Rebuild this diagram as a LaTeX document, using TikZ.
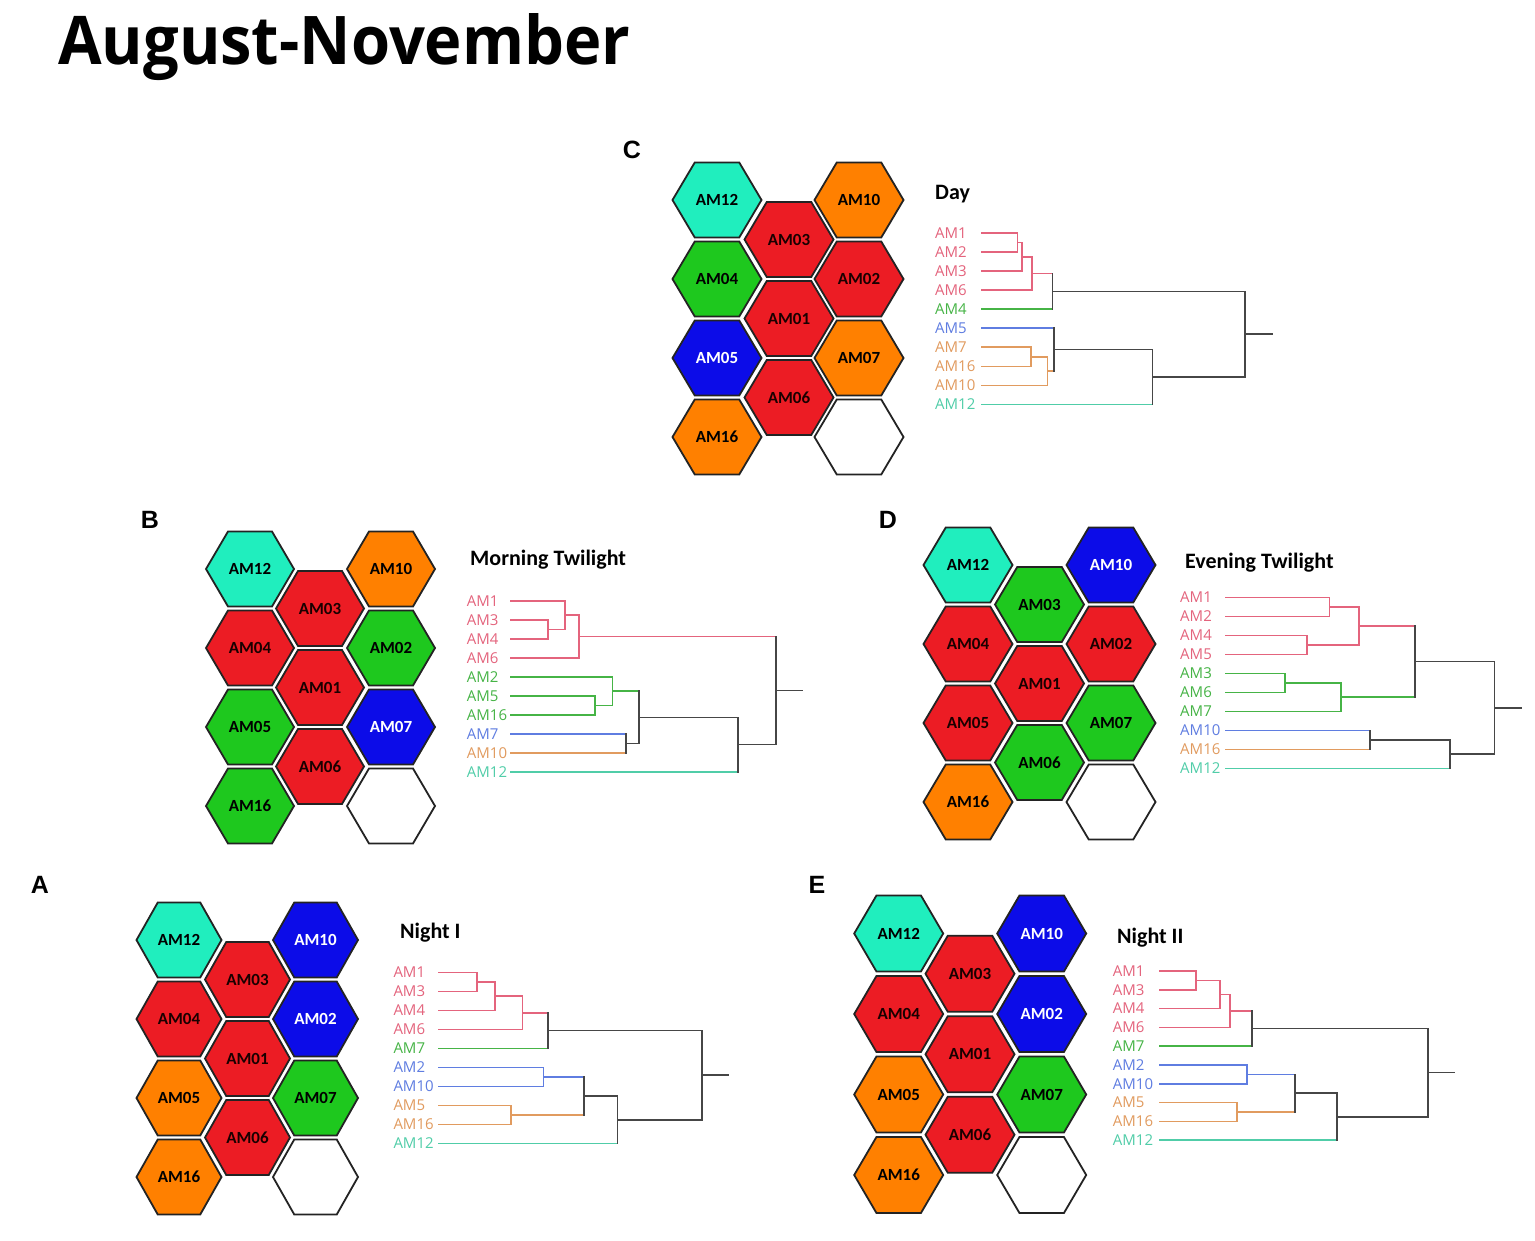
\documentclass[tikz,border=0pt]{standalone}
\usepackage{fontspec}
\setmainfont{Carlito}
\newfontfamily\ttlfont{Open Sans}
\newfontfamily\lblfont{Open Sans}
\newfontfamily\letfont{Liberation Sans}
\usetikzlibrary{calc}
\definecolor{hred}{RGB}{236,28,36}
\definecolor{hgreen}{RGB}{30,200,30}
\definecolor{hblue}{RGB}{12,12,232}
\definecolor{horange}{RGB}{255,128,0}
\definecolor{hteal}{RGB}{32,238,190}
\definecolor{hedge}{RGB}{35,35,35}
\definecolor{cpk}{RGB}{228,100,125}
\definecolor{cgn}{RGB}{70,180,70}
\definecolor{cbl}{RGB}{95,125,225}
\definecolor{cor}{RGB}{225,155,95}
\definecolor{ctl}{RGB}{80,205,168}
\definecolor{cdk}{RGB}{70,70,70}

\newcommand\hexcell[5]{%
  \draw[hexe,#4,shift={(#2,#3)}] (-\hw,0) -- (-\hw/2,-\hh) -- (\hw/2,-\hh) -- (\hw,0) -- (\hw/2,\hh) -- (-\hw/2,\hh) -- cycle;
  \node[hexl,#4,fill=none] (#1) at (#2,#3) {#5};}
\newcommand\hexempty[2]{%
  \draw[hexe,fill=white,shift={(#1,#2)}] (-\hw,0) -- (-\hw/2,-\hh) -- (\hw/2,-\hh) -- (\hw,0) -- (\hw/2,\hh) -- (-\hw/2,\hh) -- cycle;}
\newcommand\leaf[4]{%
  \node[lf,text=#3] (#1-#2t) at (\tx,#4) {#2};
  \coordinate (#1-#2) at (\lx,#4);}
\newcommand\mrg[7]{%
  \coordinate (tmpx) at (#2,0);
  \coordinate (#1a) at (#3 -| tmpx);
  \coordinate (#1b) at (#4 -| tmpx);
  \coordinate (#1) at ($(#1a)!0.5!(#1b)$);
  \draw[dl,#5] (#3) -- (#1a);
  \draw[dl,#6] (#4) -- (#1b);
  \draw[dl,#7] (#1a) -- (#1b);}

\begin{document}
\begin{tikzpicture}[x=1pt,y=-1pt,
  hexe/.style={draw=hedge,line width=1.8pt,line join=miter},
  hexl/.style={font=\bfseries\fontsize{17}{19}\selectfont,inner sep=0pt},
  hR/.style={fill=hred,text=black!90!red},
  hG/.style={fill=hgreen,text=black},
  hB/.style={fill=hblue,text=white},
  hO/.style={fill=horange,text=black},
  hT/.style={fill=hteal,text=black},
  lf/.style={font=\lblfont\fontsize{15}{17}\selectfont,anchor=west,inner sep=0pt},
  dl/.style={line width=1.6pt,line cap=rect},
  ttl/.style={font=\bfseries\fontsize{22}{24}\selectfont,anchor=base west,inner sep=0pt},
  plet/.style={font=\letfont\bfseries\fontsize{25}{27}\selectfont,inner sep=0pt}]
\useasboundingbox[fill=white] (0,0) rectangle (1535,1241);

% title
\node[anchor=base west,inner sep=0pt] (title) at (58,65) {\resizebox{572pt}{51pt}{\ttlfont\bfseries August-November}};

% panel letters
\node[plet] (letC) at (632,150) {C};
\node[plet] (letB) at (150,520) {B};
\node[plet] (letD) at (888,520) {D};
\node[plet] (letA) at (40,885) {A};
\node[plet] (letE) at (817,885) {E};

% ===== Panel C hexes
\def\hw{44.5}\def\hh{37.5}
\def\pL{717}\def\pM{789}\def\pR{859}\def\pT{200}\def\pD{79}
\hexcell{C-AM12}{\pL}{\pT}{hT}{AM12}
\hexcell{C-AM04}{\pL}{\pT+\pD}{hG}{AM04}
\hexcell{C-AM05}{\pL}{\pT+2*\pD}{hB}{AM05}
\hexcell{C-AM16}{\pL}{\pT+3*\pD}{hO}{AM16}
\hexcell{C-AM03}{\pM}{\pT+0.5*\pD}{hR}{AM03}
\hexcell{C-AM01}{\pM}{\pT+1.5*\pD}{hR}{AM01}
\hexcell{C-AM06}{\pM}{\pT+2.5*\pD}{hR}{AM06}
\hexcell{C-AM10}{\pR}{\pT}{hO}{AM10}
\hexcell{C-AM02}{\pR}{\pT+\pD}{hR}{AM02}
\hexcell{C-AM07}{\pR}{\pT+2*\pD}{hO}{AM07}
\hexempty{\pR}{\pT+3*\pD}

% ===== Panel B hexes
\def\hw{44}\def\hh{37.5}
\def\pL{250}\def\pM{320}\def\pR{391}\def\pT{569}\def\pD{79}
\hexcell{B-AM12}{\pL}{\pT}{hT}{AM12}
\hexcell{B-AM04}{\pL}{\pT+\pD}{hR}{AM04}
\hexcell{B-AM05}{\pL}{\pT+2*\pD}{hG}{AM05}
\hexcell{B-AM16}{\pL}{\pT+3*\pD}{hG}{AM16}
\hexcell{B-AM03}{\pM}{\pT+0.5*\pD}{hR}{AM03}
\hexcell{B-AM01}{\pM}{\pT+1.5*\pD}{hR}{AM01}
\hexcell{B-AM06}{\pM}{\pT+2.5*\pD}{hR}{AM06}
\hexcell{B-AM10}{\pR}{\pT}{hO}{AM10}
\hexcell{B-AM02}{\pR}{\pT+\pD}{hG}{AM02}
\hexcell{B-AM07}{\pR}{\pT+2*\pD}{hB}{AM07}
\hexempty{\pR}{\pT+3*\pD}

% ===== Panel D hexes
\def\hw{44.5}\def\hh{37.5}
\def\pL{968}\def\pM{1039.5}\def\pR{1111}\def\pT{565}\def\pD{79}
\hexcell{D-AM12}{\pL}{\pT}{hT}{AM12}
\hexcell{D-AM04}{\pL}{\pT+\pD}{hR}{AM04}
\hexcell{D-AM05}{\pL}{\pT+2*\pD}{hR}{AM05}
\hexcell{D-AM16}{\pL}{\pT+3*\pD}{hO}{AM16}
\hexcell{D-AM03}{\pM}{\pT+0.5*\pD}{hG}{AM03}
\hexcell{D-AM01}{\pM}{\pT+1.5*\pD}{hR}{AM01}
\hexcell{D-AM06}{\pM}{\pT+2.5*\pD}{hG}{AM06}
\hexcell{D-AM10}{\pR}{\pT}{hB}{AM10}
\hexcell{D-AM02}{\pR}{\pT+\pD}{hR}{AM02}
\hexcell{D-AM07}{\pR}{\pT+2*\pD}{hG}{AM07}
\hexempty{\pR}{\pT+3*\pD}

% ===== Panel A hexes
\def\hw{42.5}\def\hh{37.5}
\def\pL{179}\def\pM{247.5}\def\pR{315.5}\def\pT{940}\def\pD{79}
\hexcell{A-AM12}{\pL}{\pT}{hT}{AM12}
\hexcell{A-AM04}{\pL}{\pT+\pD}{hR}{AM04}
\hexcell{A-AM05}{\pL}{\pT+2*\pD}{hO}{AM05}
\hexcell{A-AM16}{\pL}{\pT+3*\pD}{hO}{AM16}
\hexcell{A-AM03}{\pM}{\pT+0.5*\pD}{hR}{AM03}
\hexcell{A-AM01}{\pM}{\pT+1.5*\pD}{hR}{AM01}
\hexcell{A-AM06}{\pM}{\pT+2.5*\pD}{hR}{AM06}
\hexcell{A-AM10}{\pR}{\pT}{hB}{AM10}
\hexcell{A-AM02}{\pR}{\pT+\pD}{hB}{AM02}
\hexcell{A-AM07}{\pR}{\pT+2*\pD}{hG}{AM07}
\hexempty{\pR}{\pT+3*\pD}

% ===== Panel E hexes
\def\hw{44.5}\def\hh{38}
\def\pL{898.7}\def\pM{970}\def\pR{1041.7}\def\pT{933.5}\def\pD{80.5}
\hexcell{E-AM12}{\pL}{\pT}{hT}{AM12}
\hexcell{E-AM04}{\pL}{\pT+\pD}{hR}{AM04}
\hexcell{E-AM05}{\pL}{\pT+2*\pD}{hO}{AM05}
\hexcell{E-AM16}{\pL}{\pT+3*\pD}{hO}{AM16}
\hexcell{E-AM03}{\pM}{\pT+0.5*\pD}{hR}{AM03}
\hexcell{E-AM01}{\pM}{\pT+1.5*\pD}{hR}{AM01}
\hexcell{E-AM06}{\pM}{\pT+2.5*\pD}{hR}{AM06}
\hexcell{E-AM10}{\pR}{\pT}{hB}{AM10}
\hexcell{E-AM02}{\pR}{\pT+\pD}{hB}{AM02}
\hexcell{E-AM07}{\pR}{\pT+2*\pD}{hG}{AM07}
\hexempty{\pR}{\pT+3*\pD}

% ===== titles
\node[ttl] (tDay) at (935,199.5) {Day};
\node[ttl] (tMT) at (470,565) {Morning Twilight};
\node[ttl] (tET) at (1185,568) {Evening Twilight};
\node[ttl] (tN1) at (400,938.5) {Night I};
\node[ttl] (tN2) at (1117,943) {Night II};

% ===== Dendrogram C (Day)
\def\tx{935}\def\lx{981.7}
\leaf{dC}{AM1}{cpk}{233}
\leaf{dC}{AM2}{cpk}{252.05}
\leaf{dC}{AM3}{cpk}{271.1}
\leaf{dC}{AM6}{cpk}{290.15}
\leaf{dC}{AM4}{cgn}{309.2}
\leaf{dC}{AM5}{cbl}{328.25}
\leaf{dC}{AM7}{cor}{347.3}
\leaf{dC}{AM16}{cor}{366.35}
\leaf{dC}{AM10}{cor}{385.4}
\leaf{dC}{AM12}{ctl}{404.45}
\mrg{dC-m1}{1017.3}{dC-AM1}{dC-AM2}{cpk}{cpk}{cpk}
\mrg{dC-m2}{1021.7}{dC-m1}{dC-AM3}{cpk}{cpk}{cpk}
\mrg{dC-m3}{1031.7}{dC-m2}{dC-AM6}{cpk}{cpk}{cpk}
\mrg{dC-m4}{1052.3}{dC-m3}{dC-AM4}{cpk}{cgn}{cdk}
\mrg{dC-m5}{1031}{dC-AM7}{dC-AM16}{cor}{cor}{cor}
\mrg{dC-m6}{1047.3}{dC-m5}{dC-AM10}{cor}{cor}{cor}
\mrg{dC-m7}{1054}{dC-AM5}{dC-m6}{cbl}{cor}{cdk}
\mrg{dC-m8}{1152.3}{dC-m7}{dC-AM12}{cdk}{ctl}{cdk}
\mrg{dC-root}{1245}{dC-m4}{dC-m8}{cdk}{cdk}{cdk}
\coordinate (dC-tail) at ($(dC-root)+(26.7,0)$);
\draw[dl,cdk] (dC-root) -- (dC-tail);

% ===== Dendrogram B (Morning Twilight)
\def\tx{466.7}\def\lx{511}
\leaf{dB}{AM1}{cpk}{601}
\leaf{dB}{AM3}{cpk}{620}
\leaf{dB}{AM4}{cpk}{639}
\leaf{dB}{AM6}{cpk}{658}
\leaf{dB}{AM2}{cgn}{677}
\leaf{dB}{AM5}{cgn}{696}
\leaf{dB}{AM16}{cgn}{715}
\leaf{dB}{AM7}{cbl}{734}
\leaf{dB}{AM10}{cor}{753}
\leaf{dB}{AM12}{ctl}{772}
\mrg{dB-m1}{547.7}{dB-AM3}{dB-AM4}{cpk}{cpk}{cpk}
\mrg{dB-m2}{565}{dB-AM1}{dB-m1}{cpk}{cpk}{cpk}
\mrg{dB-m3}{579}{dB-m2}{dB-AM6}{cpk}{cpk}{cpk}
\mrg{dB-m4}{595}{dB-AM5}{dB-AM16}{cgn}{cgn}{cgn}
\mrg{dB-m5}{612.3}{dB-AM2}{dB-m4}{cgn}{cgn}{cgn}
\mrg{dB-m6}{625.7}{dB-AM7}{dB-AM10}{cbl}{cor}{cdk}
\mrg{dB-m7}{639}{dB-m5}{dB-m6}{cgn}{cdk}{cdk}
\mrg{dB-m8}{737.7}{dB-m7}{dB-AM12}{cdk}{ctl}{cdk}
\mrg{dB-root}{775.7}{dB-m3}{dB-m8}{cpk}{cdk}{cdk}
\coordinate (dB-tail) at ($(dB-root)+(26,0)$);
\draw[dl,cdk] (dB-root) -- (dB-tail);

% ===== Dendrogram D (Evening Twilight)
\def\tx{1180}\def\lx{1226}
\leaf{dD}{AM1}{cpk}{597.3}
\leaf{dD}{AM2}{cpk}{616.3}
\leaf{dD}{AM4}{cpk}{635.3}
\leaf{dD}{AM5}{cpk}{654.3}
\leaf{dD}{AM3}{cgn}{673.3}
\leaf{dD}{AM6}{cgn}{692.3}
\leaf{dD}{AM7}{cgn}{711.3}
\leaf{dD}{AM10}{cbl}{730.3}
\leaf{dD}{AM16}{cor}{749.3}
\leaf{dD}{AM12}{ctl}{768.3}
\mrg{dD-m1}{1329.3}{dD-AM1}{dD-AM2}{cpk}{cpk}{cpk}
\mrg{dD-m2}{1306.7}{dD-AM4}{dD-AM5}{cpk}{cpk}{cpk}
\mrg{dD-m3}{1358.7}{dD-m1}{dD-m2}{cpk}{cpk}{cpk}
\mrg{dD-m4}{1285}{dD-AM3}{dD-AM6}{cgn}{cgn}{cgn}
\mrg{dD-m5}{1340.7}{dD-m4}{dD-AM7}{cgn}{cgn}{cgn}
\mrg{dD-m6}{1415}{dD-m3}{dD-m5}{cpk}{cgn}{cdk}
\mrg{dD-m7}{1370}{dD-AM10}{dD-AM16}{cbl}{cor}{cdk}
\mrg{dD-m8}{1450}{dD-m7}{dD-AM12}{cdk}{ctl}{cdk}
\mrg{dD-root}{1494.3}{dD-m6}{dD-m8}{cdk}{cdk}{cdk}
\coordinate (dD-tail) at ($(dD-root)+(26.4,0)$);
\draw[dl,cdk] (dD-root) -- (dD-tail);

% ===== Dendrogram A (Night I)
\def\tx{393.3}\def\lx{439}
\leaf{dA}{AM1}{cpk}{972.5}
\leaf{dA}{AM3}{cpk}{991.5}
\leaf{dA}{AM4}{cpk}{1010.5}
\leaf{dA}{AM6}{cpk}{1029.5}
\leaf{dA}{AM7}{cgn}{1048.5}
\leaf{dA}{AM2}{cbl}{1067.5}
\leaf{dA}{AM10}{cbl}{1086.5}
\leaf{dA}{AM5}{cor}{1105.5}
\leaf{dA}{AM16}{cor}{1124.5}
\leaf{dA}{AM12}{ctl}{1143.5}
\mrg{dA-m1}{476.7}{dA-AM1}{dA-AM3}{cpk}{cpk}{cpk}
\mrg{dA-m2}{495}{dA-m1}{dA-AM4}{cpk}{cpk}{cpk}
\mrg{dA-m3}{522.3}{dA-m2}{dA-AM6}{cpk}{cpk}{cpk}
\mrg{dA-m4}{547.7}{dA-m3}{dA-AM7}{cpk}{cgn}{cdk}
\mrg{dA-m5}{543.3}{dA-AM2}{dA-AM10}{cbl}{cbl}{cbl}
\mrg{dA-m6}{510.7}{dA-AM5}{dA-AM16}{cor}{cor}{cor}
\mrg{dA-m7}{584}{dA-m5}{dA-m6}{cbl}{cor}{cdk}
\mrg{dA-m8}{617.3}{dA-m7}{dA-AM12}{cdk}{ctl}{cdk}
\mrg{dA-root}{701.7}{dA-m4}{dA-m8}{cdk}{cdk}{cdk}
\coordinate (dA-tail) at ($(dA-root)+(26.6,0)$);
\draw[dl,cdk] (dA-root) -- (dA-tail);

% ===== Dendrogram E (Night II)
\def\tx{1112.7}\def\lx{1159.3}
\leaf{dE}{AM1}{cpk}{971}
\leaf{dE}{AM3}{cpk}{989.8}
\leaf{dE}{AM4}{cpk}{1008.6}
\leaf{dE}{AM6}{cpk}{1027.4}
\leaf{dE}{AM7}{cgn}{1046.2}
\leaf{dE}{AM2}{cbl}{1065}
\leaf{dE}{AM10}{cbl}{1083.8}
\leaf{dE}{AM5}{cor}{1102.6}
\leaf{dE}{AM16}{cor}{1121.4}
\leaf{dE}{AM12}{ctl}{1140.2}
\mrg{dE-m1}{1195.7}{dE-AM1}{dE-AM3}{cpk}{cpk}{cpk}
\mrg{dE-m2}{1220}{dE-m1}{dE-AM4}{cpk}{cpk}{cpk}
\mrg{dE-m3}{1230}{dE-m2}{dE-AM6}{cpk}{cpk}{cpk}
\mrg{dE-m4}{1252}{dE-m3}{dE-AM7}{cpk}{cgn}{cdk}
\mrg{dE-m5}{1246.7}{dE-AM2}{dE-AM10}{cbl}{cbl}{cbl}
\mrg{dE-m6}{1236.7}{dE-AM5}{dE-AM16}{cor}{cor}{cor}
\mrg{dE-m7}{1295}{dE-m5}{dE-m6}{cbl}{cor}{cdk}
\mrg{dE-m8}{1336.7}{dE-m7}{dE-AM12}{cdk}{ctl}{cdk}
\mrg{dE-root}{1427.7}{dE-m4}{dE-m8}{cdk}{cdk}{cdk}
\coordinate (dE-tail) at ($(dE-root)+(26.3,0)$);
\draw[dl,cdk] (dE-root) -- (dE-tail);
\end{tikzpicture}
\end{document}
